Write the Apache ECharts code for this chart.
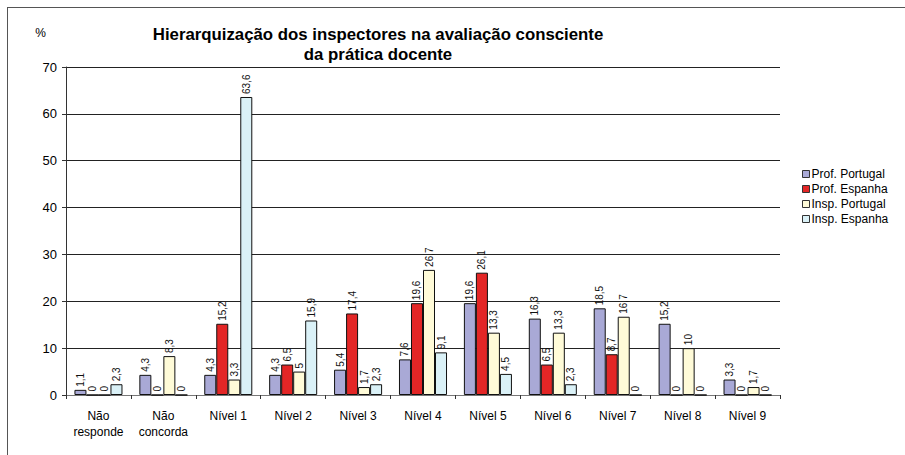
<!DOCTYPE html>
<html>
<head>
<meta charset="utf-8">
<script src="https://cdn.jsdelivr.net/npm/echarts@6/dist/echarts.min.js"></script>
<style>
    html, body { margin: 0; padding: 0; background: #fff; }
    #chart { width: 905px; height: 455px; }
    .frame { position: absolute; left: 7px; top: 7px; width: 898px; height: 448px;
             border-top: 1px solid #555; border-left: 1px solid #555; pointer-events: none; }
</style>
</head>
<body>
<div id="chart"></div>
<div class="frame"></div>
<script>
    // categorias e valores (%)
    var categories = ['Não\nresponde', 'Não\nconcorda', 'Nível 1', 'Nível 2', 'Nível 3', 'Nível 4',
                      'Nível 5', 'Nível 6', 'Nível 7', 'Nível 8', 'Nível 9'];
    var seriesNames = ['Prof. Portugal', 'Prof. Espanha', 'Insp. Portugal', 'Insp. Espanha'];
    var profPortugal = [1.1, 4.3, 4.3, 4.3, 5.4, 7.6, 19.6, 16.3, 18.5, 15.2, 3.3];
    var profEspanha  = [0, 0, 15.2, 6.5, 17.4, 19.6, 26.1, 6.5, 8.7, 0, 0];
    var inspPortugal = [0, 8.3, 3.3, 5, 1.7, 26.7, 13.3, 13.3, 16.7, 10, 1.7];
    var inspEspanha  = [2.3, 0, 63.6, 15.9, 2.3, 9.1, 4.5, 2.3, 0, 0, 0];
    var yTicks = [0, 10, 20, 30, 40, 50, 60, 70];

    var colors = ['#a9a9d6', '#e32626', '#fffbd8', '#daf1f7'];
    var allData = [profPortugal, profEspanha, inspPortugal, inspEspanha];

    var chart = echarts.init(document.getElementById('chart'), null, {renderer: 'svg'});

    var series = allData.map(function (d, i) {
        return {
            name: seriesNames[i],
            type: 'bar',
            data: d,
            barGap: '0%',
            barCategoryGap: '26%',
            itemStyle: { color: colors[i], borderColor: '#111', borderWidth: 1 },
            label: {
                show: true,
                position: 'top',
                rotate: 90,
                align: 'left',
                verticalAlign: 'middle',
                distance: 3,
                fontSize: 10,
                color: '#111',
                formatter: function (p) { return String(p.value).replace('.', ','); }
            }
        };
    });

    chart.setOption({
        animation: false,
        textStyle: { fontFamily: 'Liberation Sans' },
        title: {
            text: 'Hierarquização dos inspectores na avaliação consciente\nda prática docente',
            left: 373,
            top: 19,
            textAlign: 'center',
            textStyle: { fontSize: 16.8, fontWeight: 'bold', color: '#000', lineHeight: 20 }
        },
        legend: {
            orient: 'vertical',
            left: 797,
            top: 163,
            itemWidth: 7,
            itemHeight: 7,
            itemGap: 3,
            icon: 'rect',
            textStyle: { fontSize: 12, color: '#000', padding: [0, 0, 0, -3] },
            itemStyle: { borderColor: '#333', borderWidth: 1 },
            data: seriesNames
        },
        grid: { left: 66, right: 125, top: 67, bottom: 60 },
        xAxis: {
            type: 'category',
            data: categories,
            axisLine: { lineStyle: { color: '#777' } },
            axisTick: { show: true, length: 4, lineStyle: { color: '#333' } },
            axisLabel: { color: '#000', fontSize: 12, margin: 13, lineHeight: 16, interval: 0 }
        },
        yAxis: {
            type: 'value',
            name: '%',
            nameLocation: 'end',
            nameGap: 28,
            nameTextStyle: { color: '#000', fontSize: 12, align: 'right', padding: [0, 20, 0, 0] },
            min: yTicks[0],
            max: yTicks[yTicks.length - 1],
            interval: 10,
            axisLine: { show: true, lineStyle: { color: '#333' } },
            axisTick: { show: true, length: 4, lineStyle: { color: '#333' } },
            axisLabel: { color: '#000', fontSize: 13, margin: 9 },
            splitLine: { lineStyle: { color: '#222', width: 1 } }
        },
        series: series
    });
</script>
</body>
</html>
